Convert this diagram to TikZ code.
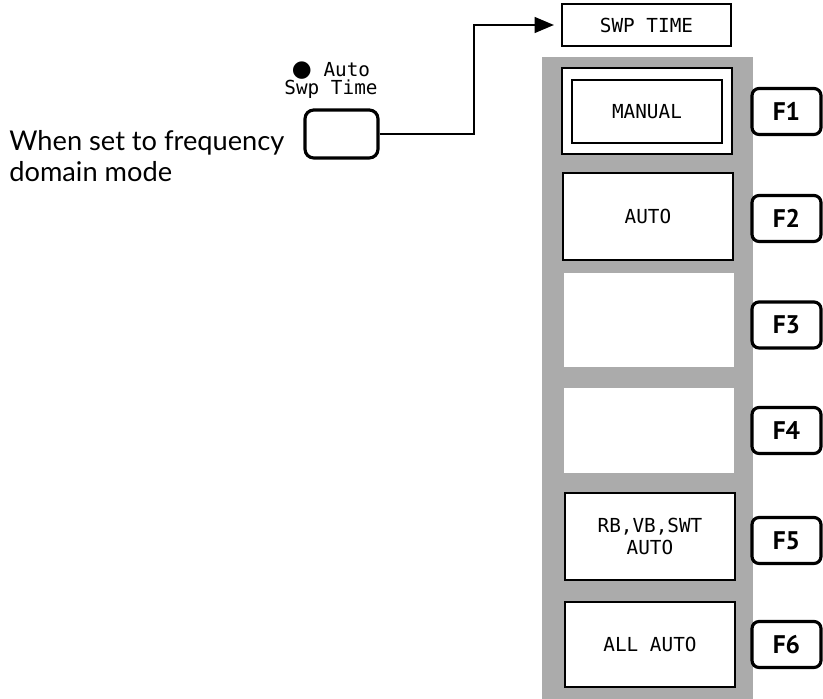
\documentclass[tikz,border=0pt]{standalone}
\usepackage{fontspec}
\setmainfont{Lato}
\setmonofont{DejaVu Sans Mono}
\newfontfamily\keyfont{PT Sans}
\newfontfamily\symfont{DejaVu Sans}
\usetikzlibrary{arrows.meta}
\begin{document}
\begin{tikzpicture}[x=0.02cm,y=-0.02cm,
        menu/.style={draw,line width=1.2pt,fill=white,align=center,inner sep=0pt,
            font=\ttfamily\fontsize{11}{13}\selectfont},
        slot/.style={fill=white,inner sep=0pt,minimum width=3.4cm},
        fkey/.style={draw,line width=1.8pt,rounded corners=4pt,fill=white,inner sep=0pt,
            minimum width=1.38cm,minimum height=0.92cm,font=\keyfont\bfseries\fontsize{14.5}{16}\selectfont}]
                \useasboundingbox (0,0) rectangle (823,699);
                \fill[black!33] (542,57) rectangle (753,699);
                \node[menu,minimum width=3.38cm,minimum height=0.84cm] (swp) at (646.5,25) {SWP TIME};
                \node[menu,minimum width=3.4cm,minimum height=1.72cm] (manualout) at (647,111) {};
                \node[menu,minimum width=3.0cm,minimum height=1.26cm] (manual) at (647,111.5) {MANUAL};
                \node[fkey] (f1) at (786.5,111.5) {F1};
                \node[menu,minimum width=3.4cm,minimum height=1.74cm] (auto) at (648,216.5) {AUTO};
                \node[fkey] (f2) at (786.5,218.5) {F2};
                \node[slot,minimum height=1.88cm] (slotc) at (649,320) {};
                \node[fkey] (f3) at (786.5,325) {F3};
                \node[slot,minimum height=1.7cm] (slotd) at (649,430.5) {};
                \node[fkey] (f4) at (786.5,430.5) {F4};
                \node[menu,minimum width=3.4cm,minimum height=1.74cm] (rbvb) at (650,536.5) {RB,VB,SWT\\AUTO};
                \node[fkey] (f5) at (786.5,540.5) {F5};
                \node[menu,minimum width=3.4cm,minimum height=1.7cm] (allauto) at (650,644.5) {ALL AUTO};
                \node[fkey] (f6) at (786.5,644.5) {F6};
                \node[draw,line width=1.8pt,rounded corners=5pt,inner sep=0pt,
                    minimum width=1.46cm,minimum height=0.96cm] (swpkey) at (341.5,134) {};
                \node[align=center,inner sep=0pt,font=\ttfamily\fontsize{11}{10.5}\selectfont] (swplbl) at (331,80)
                    {{\symfont\fontsize{13}{10}\selectfont ●} Auto\\Swp Time};
                \node[anchor=west,align=left,inner sep=0pt,font=\fontsize{15.5}{17.5}\selectfont] (note) at (9,156)
                    {When set to frequency\\domain mode};
                \draw[line width=1.1pt,-{Triangle[length=11pt,width=9pt]},shorten >=4pt]
                    (swpkey.east) -- ++(94,0) |- (swp.west);
            \end{tikzpicture}
\end{document}
